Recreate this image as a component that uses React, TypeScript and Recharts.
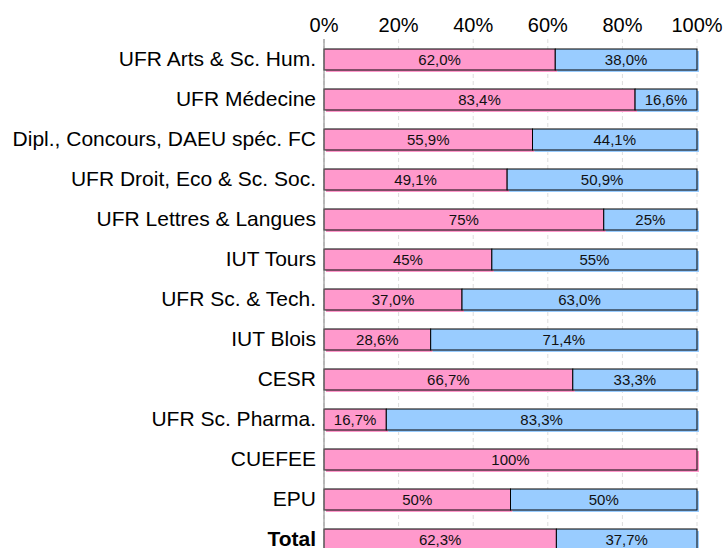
import { BarChart, Bar, XAxis, YAxis, CartesianGrid, LabelList } from "recharts";

const categories = [
  "UFR Arts & Sc. Hum.",
  "UFR Médecine",
  "Dipl., Concours, DAEU spéc. FC",
  "UFR Droit, Eco & Sc. Soc.",
  "UFR Lettres & Langues",
  "IUT Tours",
  "UFR Sc. & Tech.",
  "IUT Blois",
  "CESR",
  "UFR Sc. Pharma.",
  "CUEFEE",
  "EPU",
  "Total",
];

const pinkValues = [62.0, 83.4, 55.9, 49.1, 75, 45, 37.0, 28.6, 66.7, 16.7, 100, 50, 62.3];
const blueValues = [38.0, 16.6, 44.1, 50.9, 25, 55, 63.0, 71.4, 33.3, 83.3, 0, 50, 37.7];

const pinkLabels = ["62,0%", "83,4%", "55,9%", "49,1%", "75%", "45%", "37,0%", "28,6%", "66,7%", "16,7%", "100%", "50%", "62,3%"];
const blueLabels = ["38,0%", "16,6%", "44,1%", "50,9%", "25%", "55%", "63,0%", "71,4%", "33,3%", "83,3%", "", "50%", "37,7%"];

const xTicks = [0, 20, 40, 60, 80, 100];

const data = categories.map((name, i) => ({
  name,
  pink: pinkValues[i],
  blue: blueValues[i],
  pinkLabel: pinkLabels[i],
  blueLabel: blueLabels[i],
}));

const PINK = "#ff99cc";
const BLUE = "#99ccff";
const FONT = "Liberation Sans, Arial, sans-serif";

// barre avec ombre décalée
function ShadowBar(props: any) {
  const { x, y, width, height, fill } = props;
  if (!width || width <= 0) return null;
  return (
    <g>
      <rect x={x + 2} y={y + 2} width={width} height={height} fill={fill} />
      <rect x={x} y={y} width={width} height={height} fill={fill} stroke="#000" strokeWidth={1} />
    </g>
  );
}

function CatTick(props: any) {
  const { x, y, payload } = props;
  const bold = payload.value === "Total";
  return (
    <text x={x} y={y} dy={7} textAnchor="end" fontSize={21} fontFamily={FONT} fill="#000" fontWeight={bold ? "bold" : "normal"}>
      {payload.value}
    </text>
  );
}

function PctTick(props: any) {
  const { x, payload } = props;
  return (
    <text x={x} y={31.5} textAnchor="middle" fontSize={20} fontFamily={FONT} fill="#000">
      {payload.value}%
    </text>
  );
}

export default function App() {
  return (
    <div style={{ position: "absolute", left: 0, top: 0, background: "#fff" }}>
      <BarChart
        width={726}
        height={560}
        data={data}
        layout="vertical"
        margin={{ top: 0, right: 29, bottom: 1, left: 0 }}
        barSize={21}
      >
        <CartesianGrid horizontal={false} stroke="#dddddd" strokeDasharray="4 3" />
        <XAxis
          type="number"
          orientation="top"
          domain={[0, 100]}
          ticks={xTicks}
          height={39}
          axisLine={false}
          tickLine={false}
          tick={<PctTick />}
          interval={0}
        />
        <YAxis
          type="category"
          dataKey="name"
          width={324}
          axisLine={{ stroke: "#808080" }}
          tickLine={false}
          tick={<CatTick />}
          tickMargin={2}
          interval={0}
        />
        <Bar dataKey="pink" stackId="a" fill={PINK} shape={<ShadowBar />} isAnimationActive={false}>
          <LabelList dataKey="pinkLabel" position="center" fontSize={15} fontFamily={FONT} fill="#111" />
        </Bar>
        <Bar dataKey="blue" stackId="a" fill={BLUE} shape={<ShadowBar />} isAnimationActive={false}>
          <LabelList dataKey="blueLabel" position="center" fontSize={15} fontFamily={FONT} fill="#111" />
        </Bar>
      </BarChart>
    </div>
  );
}
